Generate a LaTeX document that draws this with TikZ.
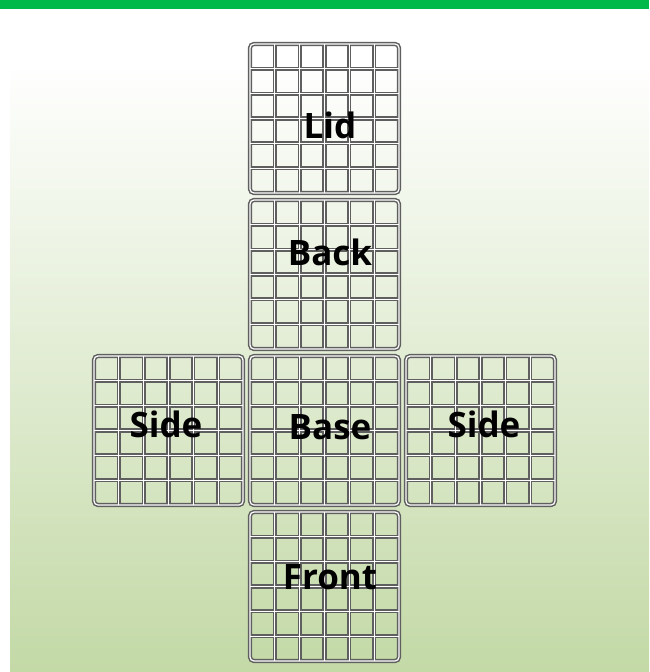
\documentclass[tikz,border=0pt]{standalone}
\usepackage{fontspec}
\newfontfamily\labelfont{Open Sans}
\usepackage{xcolor}
\definecolor{bargreen}{RGB}{0,185,74}
\definecolor{bgtop}{RGB}{255,255,255}
\definecolor{bgmid}{RGB}{240,244,232}
\definecolor{bgbottom}{RGB}{195,217,166}
\definecolor{gridgrey}{RGB}{95,95,95}
\usepackage{tikz}
\usetikzlibrary{positioning}

\tikzset{
  gridgray/.style={draw=gridgrey, line width=4.2pt},
  gridwhite/.style={draw=white, line width=1.2pt},
  facelabel/.style={font=\labelfont\bfseries\fontsize{35}{35}\selectfont, text=black,
    inner sep=0pt, text height=25pt, text depth=0pt},
  panel/.pic={
    \foreach \sty in {gridgray,gridwhite} {
      \draw[\sty, rounded corners=4pt] (2,2) rectangle (151,151);
      \foreach \k in {1,...,5}
        \draw[\sty] ({2+\k*149/6},2) -- ({2+\k*149/6},151)
                    (2,{2+\k*149/6}) -- (151,{2+\k*149/6});
    }
  }
}

\begin{document}
\begin{tikzpicture}[x=1pt, y=-1pt]
  % Canvas and background
  \useasboundingbox (0,0) rectangle (649,672);
  \fill[white] (0,0) rectangle (649,672);
  \fill[bargreen] (0,0) rectangle (649,9);
  \shade[top color=bgtop, middle color=bgmid, bottom color=bgbottom] (10,62) rectangle (649,672);

  % --- Box net panels ---
  \pic (lid)   at (248,42)  {panel};
  \pic (back)  at (248,198) {panel};
  \pic (sidel) at (92,354)  {panel};
  \pic (base)  at (248,354) {panel};
  \pic (sider) at (404,354) {panel};
  \pic (front) at (248,510) {panel};

  % Labels
  \node[facelabel] (lidlabel)   at (330,126) {Lid};
  \node[facelabel] (backlabel)  at (330,253) {Back};
  \node[facelabel] (sidellabel) at (166,425) {Side};
  \node[facelabel] (baselabel)  at (330,427) {Base};
  \node[facelabel] (siderlabel) at (484,425) {Side};
  \node[facelabel] (frontlabel) at (330,577) {Front};
\end{tikzpicture}
\end{document}
